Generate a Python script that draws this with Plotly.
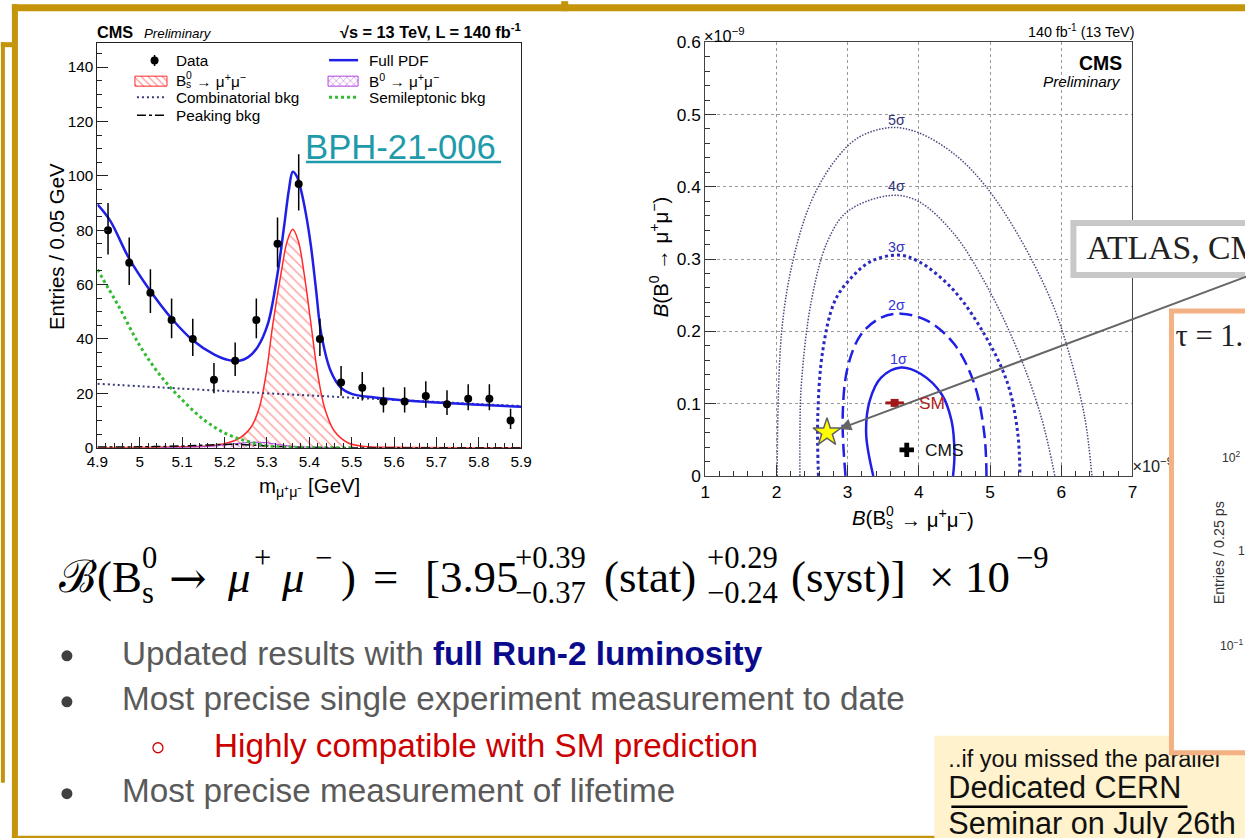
import plotly.graph_objects as go

# Measured page transform of the viewer: picture_px = A + S * figure_px.
# All positions below are written in picture pixels (those of the 1246x839 reference)
# and converted to figure fractions with this transform.
SX, SY = 0.982, 0.977
AX, AY = 10.1, 8.8
W, H = 1256, 848
XMAX, YMAX = AX + SX * W, AY + SY * H          # last drawable picture pixel
FS = 1 / 0.98                                   # font scale compensation
SANS = "Liberation Sans, Arial, sans-serif"
SERIF = "Liberation Serif, DejaVu Serif, serif"

# ---------------- left panel: mass fit ----------------
bin_centers = [4.925, 4.975, 5.025, 5.075, 5.125, 5.175, 5.225, 5.275, 5.325, 5.375,
               5.425, 5.475, 5.525, 5.575, 5.625, 5.675, 5.725, 5.775, 5.825, 5.875]
entries = [80, 68, 57, 47, 40, 25, 32, 47, 75, 97, 40, 24, 22, 17, 17, 19, 16, 18, 18, 10]
err_up = [10.0, 9.3, 8.6, 7.9, 7.4, 6.1, 6.7, 7.9, 9.7, 10.9, 7.4, 6.0, 5.8, 5.2, 5.2, 5.4, 5.1, 5.3, 5.3, 4.3]
err_dn = [8.9, 8.2, 7.5, 6.8, 6.3, 5.0, 5.6, 6.8, 8.6, 9.8, 6.3, 4.9, 4.7, 4.1, 4.1, 4.3, 4.0, 4.2, 4.2, 3.1]

pdf_m = [4.9, 4.93, 4.975, 5.025, 5.075, 5.125, 5.175, 5.21, 5.235, 5.255, 5.278, 5.302, 5.325,
         5.341, 5.352, 5.361, 5.37, 5.38, 5.392, 5.404, 5.416, 5.428, 5.451, 5.475, 5.5, 5.55,
         5.6, 5.7, 5.8, 5.9]
pdf_v = [89.5, 83.5, 69.5, 57.6, 47.5, 39.5, 34.3, 32.2, 32.0, 33.2, 37.0, 45.4, 64.0,
         82.0, 95.0, 101.5, 100.0, 95.0, 86.0, 74.0, 58.0, 42.0, 28.0, 22.0, 19.8, 18.5,
         17.7, 16.6, 15.8, 15.0]

sig_m = [4.9, 5.1, 5.184, 5.231, 5.262, 5.282, 5.298, 5.314, 5.333, 5.348, 5.361, 5.374,
         5.388, 5.404, 5.42, 5.436, 5.459, 5.491, 5.53, 5.6, 5.9]
sig_v = [0.0, 0.3, 1.0, 3.1, 7.4, 14.7, 27.0, 45.4, 63.8, 76.0, 80.3, 76.0,
         63.8, 45.4, 27.0, 14.7, 6.1, 1.8, 0.4, 0.1, 0.0]

b0_m = [5.05, 5.1, 5.15, 5.2, 5.24, 5.27, 5.3, 5.33, 5.36, 5.4, 5.45]
b0_v = [0.0, 0.1, 0.4, 1.0, 1.7, 2.0, 1.8, 1.1, 0.5, 0.15, 0.0]

comb_m = [4.9, 5.1, 5.3, 5.5, 5.7, 5.9]
comb_v = [23.5, 21.7, 20.0, 18.4, 16.8, 15.3]

semi_m = [4.9, 4.95, 5.0, 5.05, 5.1, 5.15, 5.2, 5.25, 5.3, 5.35, 5.4, 5.5]
semi_v = [65.5, 52.0, 37.5, 26.2, 17.6, 10.4, 5.4, 2.5, 0.7, 0.2, 0.0, 0.0]

peak_m = [4.9, 5.0, 5.1, 5.15, 5.2, 5.25, 5.3, 5.35, 5.4, 5.5, 5.9]
peak_v = [0.2, 0.3, 0.6, 0.9, 1.2, 1.1, 0.6, 0.2, 0.05, 0.0, 0.0]

# ---------------- right panel: 2D likelihood contours ----------------
c1_x = [3.36, 3.26, 3.31, 3.47, 3.75, 4.03, 4.32, 4.46, 4.50, 4.48]
c1_y = [0.0, 0.058, 0.104, 0.136, 0.15, 0.141, 0.113, 0.076, 0.030, 0.0]
c2_x = [2.97, 2.93, 3.0, 3.19, 3.47, 3.75, 4.13, 4.50, 4.78, 4.92, 4.95]
c2_y = [0.0, 0.081, 0.15, 0.196, 0.219, 0.2245, 0.214, 0.182, 0.127, 0.058, 0.0]
c3_x = [2.59, 2.58, 2.65, 2.82, 3.05, 3.33, 3.71, 3.99, 4.46, 4.92, 5.25, 5.39, 5.42]
c3_y = [0.0, 0.081, 0.173, 0.242, 0.274, 0.297, 0.3055, 0.297, 0.26, 0.196, 0.127, 0.058, 0.0]
c4_x = [2.33, 2.33, 2.35, 2.49, 2.72, 3.0, 3.61, 3.99, 4.50, 4.97, 5.39, 5.72, 5.91]
c4_y = [0.0, 0.06, 0.127, 0.242, 0.325, 0.366, 0.388, 0.380, 0.334, 0.26, 0.173, 0.081, 0.0]
c5_x = [2.01, 2.07, 2.23, 2.49, 2.82, 3.15, 3.61, 3.99, 4.50, 4.92, 5.39, 5.86, 6.10, 6.33, 6.43]
c5_y = [0.0, 0.196, 0.297, 0.38, 0.436, 0.468, 0.482, 0.475, 0.445, 0.403, 0.334, 0.242, 0.173, 0.081, 0.0]
sigma_labels = ["1σ", "2σ", "3σ", "4σ", "5σ"]
sigma_label_x = [3.72, 3.68, 3.68, 3.68, 3.68]
sigma_label_y = [0.162, 0.237, 0.317, 0.401, 0.493]

sm_x, sm_y, sm_xerr = [3.66], [0.101], [0.13]
cms_x, cms_y = [3.83], [0.036]
atlas_x, atlas_y = [2.71], [0.06]

# ---------------- helpers (picture pixels -> paper fractions) ----------------
def fx(x):
    return (x - AX) / SX / W


def fy(y):
    return 1 - (y - AY) / SY / H


def fs(size):
    return round(size * FS, 1)


annotations = []
shapes = []


def ann(text, x, y, size, color="black", family=SANS, xanchor="left", yanchor="middle", angle=0):
    annotations.append(dict(text=text, x=fx(x), y=fy(y), xref="paper", yref="paper",
                            showarrow=False, xanchor=xanchor, yanchor=yanchor, textangle=angle,
                            borderpad=0, borderwidth=0,
                            font=dict(size=fs(size), color=color, family=family)))


def rect(x0, y0, x1, y1, fill=None, layer="below"):
    x1, y1 = min(x1, XMAX), min(y1, YMAX)
    shapes.append(dict(type="rect", xref="paper", yref="paper", x0=fx(x0), x1=fx(x1),
                       y0=fy(y0), y1=fy(y1), fillcolor=fill,
                       line=dict(color="rgba(0,0,0,0)", width=0), layer=layer))


def seg(x0, y0, x1, y1, color, width, layer="above"):
    shapes.append(dict(type="line", xref="paper", yref="paper", x0=fx(x0), x1=fx(x1),
                       y0=fy(y0), y1=fy(y1), line=dict(color=color, width=width), layer=layer))


def circle(cx, cy, r, fill=None, line=None, lw=0):
    shapes.append(dict(type="circle", xref="paper", yref="paper", x0=fx(cx - r), x1=fx(cx + r),
                       y0=fy(cy + r), y1=fy(cy - r), fillcolor=fill if fill else "rgba(0,0,0,0)",
                       line=dict(color=line if line else "rgba(0,0,0,0)", width=lw), layer="above"))


def bs_label(x, y, size, prefix="B", suffix=" → μ<sup>+</sup>μ<sup>−</sup>", prefix_w=None):
    """B with a stacked 0 / s, as in the ROOT labels"""
    pw = prefix_w if prefix_w is not None else 0.67 * size
    ann(prefix, x, y, size)
    ann("0", x + pw, y - 0.32 * size, 0.68 * size)
    ann("s", x + pw, y + 0.3 * size, 0.68 * size)
    ann(suffix, x + pw + 0.42 * size, y, size)


fig = go.Figure()

BLUE = "#1f1fe6"
RED = "#ff2a2a"
GREEN = "#33bb33"
NAVY = "#3a3a78"
PURPLE = "#b040e0"

# ---- left panel traces ----
fig.add_trace(go.Scatter(x=sig_m, y=sig_v, mode="lines", line=dict(color=RED, width=1.5, shape="spline"),
                         fill="tozeroy", fillcolor="rgba(0,0,0,0)",
                         fillpattern=dict(shape="\\", fgcolor=RED, size=7, solidity=0.18),
                         xaxis="x", yaxis="y", showlegend=False))
fig.add_trace(go.Scatter(x=b0_m, y=b0_v, mode="lines", line=dict(color=PURPLE, width=1, shape="spline"),
                         fill="tozeroy", fillcolor="rgba(0,0,0,0)",
                         fillpattern=dict(shape="x", fgcolor=PURPLE, size=5, solidity=0.3),
                         xaxis="x", yaxis="y", showlegend=False))
fig.add_trace(go.Scatter(x=peak_m, y=peak_v, mode="lines", line=dict(color="black", width=1.5, dash="dashdot", shape="spline"),
                         xaxis="x", yaxis="y", showlegend=False))
fig.add_trace(go.Scatter(x=semi_m, y=semi_v, mode="lines", line=dict(color=GREEN, width=3, dash="dot", shape="spline"),
                         xaxis="x", yaxis="y", showlegend=False))
fig.add_trace(go.Scatter(x=comb_m, y=comb_v, mode="lines", line=dict(color=NAVY, width=2, dash="2px,3px", shape="spline"),
                         xaxis="x", yaxis="y", showlegend=False))
fig.add_trace(go.Scatter(x=pdf_m, y=pdf_v, mode="lines", line=dict(color=BLUE, width=2.5, shape="spline"),
                         xaxis="x", yaxis="y", showlegend=False))
fig.add_trace(go.Scatter(x=bin_centers, y=entries, mode="markers",
                         marker=dict(color="black", size=8),
                         error_y=dict(type="data", symmetric=False, array=err_up, arrayminus=err_dn,
                                      color="black", thickness=1.5, width=0),
                         xaxis="x", yaxis="y", showlegend=False))

# ---- right panel traces ----
contour_styles = [
    (c1_x, c1_y, dict(color=BLUE, width=2.5)),
    (c2_x, c2_y, dict(color=BLUE, width=2.5, dash="13px,6px")),
    (c3_x, c3_y, dict(color="#2a2ac0", width=3, dash="3px,3px")),
    (c4_x, c4_y, dict(color="#4a4a80", width=1.5, dash="1.5px,1.5px")),
    (c5_x, c5_y, dict(color="#4a4a80", width=1.5, dash="1.5px,1.5px")),
]
for cx, cy, st in contour_styles:
    st = dict(st, shape="spline")
    fig.add_trace(go.Scatter(x=cx, y=cy, mode="lines", line=st, xaxis="x2", yaxis="y2", showlegend=False))

fig.add_trace(go.Scatter(x=sm_x, y=sm_y, mode="markers", marker=dict(symbol="square", size=8, color="#a01818"),
                         error_x=dict(type="data", array=sm_xerr, color="#a01818", thickness=3, width=0),
                         xaxis="x2", yaxis="y2", showlegend=False))
fig.add_trace(go.Scatter(x=cms_x, y=cms_y, mode="markers", marker=dict(symbol="cross", size=12, color="black"),
                         xaxis="x2", yaxis="y2", showlegend=False))
fig.add_trace(go.Scatter(x=atlas_x, y=atlas_y, mode="markers",
                         marker=dict(symbol="star", size=21, color="#ffff00", line=dict(color="#606060", width=1.5)),
                         xaxis="x2", yaxis="y2", showlegend=False, cliponaxis=False))

# ---- overlay (picture-pixel) axis: legend swatches, side boxes, edge-clipped texts ----
ov = dict(xaxis="x3", yaxis="y3", showlegend=False, hoverinfo="skip")
fig.add_trace(go.Scatter(x=[153.6], y=[59.3], mode="markers", marker=dict(color="black", size=8),
                         error_y=dict(type="data", array=[5.5], color="black", thickness=1.5, width=0), **ov))
fig.add_trace(go.Scatter(x=[134, 166, 166, 134, 134], y=[75, 75, 85, 85, 75], mode="lines",
                         line=dict(color=RED, width=1), fill="toself", fillcolor="rgba(0,0,0,0)",
                         fillpattern=dict(shape="\\", fgcolor=RED, size=5, solidity=0.25), **ov))
fig.add_trace(go.Scatter(x=[136, 166], y=[96, 96], mode="lines", line=dict(color=NAVY, width=2, dash="2px,3px"), **ov))
fig.add_trace(go.Scatter(x=[136, 166], y=[114, 114], mode="lines", line=dict(color="black", width=1.5, dash="dashdot"), **ov))
fig.add_trace(go.Scatter(x=[328, 357], y=[59, 59], mode="lines", line=dict(color=BLUE, width=2.5), **ov))
fig.add_trace(go.Scatter(x=[327, 357, 357, 327, 327], y=[75, 75, 85, 85, 75], mode="lines",
                         line=dict(color=PURPLE, width=1), fill="toself", fillcolor="rgba(0,0,0,0)",
                         fillpattern=dict(shape="x", fgcolor=PURPLE, size=5, solidity=0.3), **ov))
fig.add_trace(go.Scatter(x=[328, 357], y=[96, 96], mode="lines", line=dict(color=GREEN, width=3, dash="dot"), **ov))

# texts lying under the lifetime panel
fig.add_trace(go.Scatter(x=[947, 947, 947, 1131], y=[760, 790, 826, 467], mode="text",
                         text=["..if you missed the parallel", "Dedicated CERN", "Seminar on July 26th",
                               "×10<sup>−9</sup>"],
                         textposition="middle right",
                         textfont=dict(size=[fs(23), fs(30), fs(30), fs(16)],
                                       color=["#111111", "#111111", "#111111", "#222222"], family=SANS), **ov))


def side_box(x0, y0, y1, color, lw):
    fig.add_trace(go.Scatter(x=[x0, XMAX + 5, XMAX + 5, x0, x0], y=[y0, y0, y1, y1, y0], mode="lines",
                             fill="toself", fillcolor="white", line=dict(width=0, color="white"), **ov))
    fig.add_trace(go.Scatter(x=[XMAX + 5, x0, x0, XMAX + 5], y=[y0, y0, y1, y1], mode="lines",
                             line=dict(color=color, width=lw), **ov))


side_box(1170, 310, 752, "#f4b183", 5)
side_box(1072, 222, 274, "#c8c8c8", 6)
fig.add_trace(go.Scatter(x=[1085, 1174], y=[250, 337], mode="text",
                         text=["ATLAS, CMS and LHCb", "τ = 1.5"], textposition="middle right",
                         textfont=dict(size=[fs(33), fs(30)], color="#222222", family=SERIF), **ov))

# ---------------- decorations ----------------
GOLD = "#c4950a"
rect(11, 3, XMAX, 10, fill=GOLD)
rect(560, 0, 567, 10, fill=GOLD)
rect(11, 3, 17, YMAX, fill=GOLD)
rect(0, 41, 16, 46, fill=GOLD)
rect(0, 41, 4, 782, fill=GOLD)
rect(11, 835, XMAX, YMAX, fill=GOLD)
rect(933, 735, XMAX, YMAX, fill="#fff2cc")
seg(305, 161, 500, 161, "#1e9aaa", 2.5)
seg(950, 806, 1186, 806, "black", 2.5, layer="below")

# bullets
circle(66, 655, 5.5, fill="#404040")
circle(66, 701, 5.5, fill="#404040")
circle(157, 747, 5, line="#cc0000", lw=1.3)
circle(66, 793, 5.5, fill="#404040")

# arrow to the star (combination point)
annotations.append(dict(x=fx(838), y=fy(428), xref="paper", yref="paper",
                        ax=(XMAX - 838) / SX, ay=(277 - 428) / SY,
                        axref="pixel", ayref="pixel", showarrow=True, arrowhead=2, arrowsize=1.2,
                        arrowwidth=2, arrowcolor="#666666", text=""))

# ---------------- texts ----------------
# left panel headers & legend
ann("<b>CMS</b>", 96, 31, 16)
ann("<i>Preliminary</i>", 143, 32, 13)
ann("<b>√s = 13 TeV, L = 140 fb<sup>-1</sup></b>", 520, 30, 16, xanchor="right")
ann("Data", 175, 59, 15)
bs_label(175, 79, 15)
ann("Combinatorial bkg", 175, 96, 15)
ann("Peaking bkg", 175, 114, 15)
ann("Full PDF", 368, 59, 15)
ann("B<sup>0</sup> → μ<sup>+</sup>μ<sup>−</sup>", 368, 79, 15)
ann("Semileptonic bkg", 368, 96, 15)
ann("BPH-21-006", 304, 146, 34, color="#1e9aaa")
ann("Entries / 0.05 GeV", 56, 245, 20, xanchor="center", angle=-90)
ann("m<sub>μ⁺μ⁻</sub> [GeV]", 308, 487, 20, xanchor="center")

# right panel headers
ann("140 fb<sup>-1</sup> (13 TeV)", 1133, 30, 14, xanchor="right")
ann("<b>CMS</b>", 1121, 62, 19, xanchor="right")
ann("<i>Preliminary</i>", 1120, 80, 15, xanchor="right")
ann("×10<sup>−9</sup>", 703, 34, 16)
ann("<i>B</i>(B<sup>0</sup> → μ<sup>+</sup>μ<sup>−</sup>)", 658, 256, 20, xanchor="center", angle=-90)
bs_label(851, 517, 20, prefix="<i>B</i>(B", suffix=" → μ<sup>+</sup>μ<sup>−</sup>)", prefix_w=34)
for lab, lx, ly, col in zip(sigma_labels, sigma_label_x, sigma_label_y,
                            ["#3333dd", "#3333dd", "#3333bb", "#333377", "#333377"]):
    annotations.append(dict(text=lab, x=lx, y=ly, xref="x2", yref="y2", showarrow=False,
                            font=dict(size=fs(14), color=col, family=SANS)))
annotations.append(dict(text="SM", x=sm_x[0] + 0.32, y=sm_y[0], xref="x2", yref="y2", showarrow=False,
                        xanchor="left", font=dict(size=fs(17), color="#b02020", family=SANS)))
annotations.append(dict(text="CMS", x=cms_x[0] + 0.23, y=cms_y[0], xref="x2", yref="y2", showarrow=False,
                        xanchor="left", font=dict(size=fs(17), color="#111111", family=SANS)))

# small fragments inside the lifetime panel
ann("10<sup>2</sup>", 1221, 456, 12, color="#333333")
ann("1", 1236, 550, 12, color="#333333")
ann("10<sup>−1</sup>", 1219, 644, 12, color="#333333")
ann("Entries / 0.25 ps", 1217, 552, 14, color="#333333", xanchor="center", angle=-90)

# equation
EQ = 44
SC = 30
ann("ℬ(B", 58, 576, EQ, family=SERIF)
ann("0", 141, 557, SC, family=SERIF)
ann("s", 141, 592, SC, family=SERIF)
ann("→", 168, 578, EQ, family="DejaVu Serif")
ann("<i>μ</i>", 226, 576, EQ, family=SERIF)
ann("+", 253, 557, SC, family=SERIF)
ann("<i>μ</i>", 280, 576, EQ, family=SERIF)
ann("−", 314, 557, SC, family=SERIF)
ann(")", 340, 576, EQ, family=SERIF)
ann("=", 372, 576, EQ, family=SERIF)
ann("[3.95", 424, 576, EQ, family=SERIF)
ann("+0.39", 514, 557, SC, family=SERIF)
ann("−0.37", 514, 592, SC, family=SERIF)
ann("(stat)", 603, 576, EQ, family=SERIF)
ann("+0.29", 706, 557, SC, family=SERIF)
ann("−0.24", 706, 592, SC, family=SERIF)
ann("(syst)]", 790, 576, EQ, family=SERIF)
ann("×", 928, 576, EQ, family=SERIF)
ann("10", 964, 576, EQ, family=SERIF)
ann("−9", 1015, 557, SC, family=SERIF)

# bullet texts
GRAY = "#5a5a5a"
BUL = 32.6
ann("Updated results with <b><span style='color:#0a0a8c'>full Run-2 luminosity</span></b>", 121, 653, BUL, color=GRAY)
ann("Most precise single experiment measurement to date", 121, 698, BUL, color=GRAY)
ann("Highly compatible with SM prediction", 213, 745, BUL, color="#cc0000")
ann("Most precise measurement of lifetime", 121, 790, BUL, color=GRAY)

# ---------------- axes ----------------
tickfont = dict(size=fs(15), color="black", family=SANS)
fig.update_layout(
    width=W, height=H, autosize=False,
    margin=dict(l=0, r=0, t=0, b=0, pad=0),
    paper_bgcolor="white", plot_bgcolor="rgba(0,0,0,0)",
    showlegend=False,
    xaxis=dict(domain=[fx(96.5), fx(520)], range=[4.9, 5.9], anchor="y",
               showline=True, mirror=True, linecolor="#222222", linewidth=1,
               showgrid=False, zeroline=False, ticks="inside", ticklen=11, tickcolor="#222222",
               dtick=0.1, tick0=4.9, tickfont=tickfont,
               minor=dict(dtick=0.02, tick0=4.9, ticks="inside", ticklen=5, tickcolor="#222222")),
    yaxis=dict(domain=[fy(446.7), fy(42)], range=[0, 148.8], anchor="x",
               showline=True, mirror=True, linecolor="#222222", linewidth=1,
               showgrid=False, zeroline=False, ticks="inside", ticklen=11, tickcolor="#222222",
               dtick=20, tick0=0, tickfont=tickfont,
               minor=dict(dtick=5, ticks="inside", ticklen=5, tickcolor="#222222")),
    xaxis2=dict(domain=[fx(704), fx(1131)], range=[1, 7], anchor="y2",
                showline=True, mirror=True, linecolor="#444444", linewidth=1,
                showgrid=True, gridcolor="#9a9a9a", griddash="dot", gridwidth=1, zeroline=False,
                ticks="inside", ticklen=11, tickcolor="#333333", dtick=1,
                tickfont=dict(size=fs(17), color="black", family=SANS),
                minor=dict(dtick=0.2, ticks="inside", ticklen=5, tickcolor="#333333", showgrid=False)),
    yaxis2=dict(domain=[fy(475), fy(41)], range=[0, 0.6], anchor="x2",
                showline=True, mirror=True, linecolor="#444444", linewidth=1,
                showgrid=True, gridcolor="#9a9a9a", griddash="dot", gridwidth=1, zeroline=False,
                ticks="inside", ticklen=11, tickcolor="#333333", dtick=0.1,
                tickfont=dict(size=fs(17), color="black", family=SANS),
                minor=dict(dtick=0.02, ticks="inside", ticklen=5, tickcolor="#333333", showgrid=False)),
    xaxis3=dict(domain=[0, 1], range=[AX, AX + SX * W], anchor="y3", visible=False, fixedrange=True),
    yaxis3=dict(domain=[0, 1], range=[AY + SY * H, AY], anchor="x3", visible=False, fixedrange=True),
    annotations=annotations,
    shapes=shapes,
)

fig.write_html("out.html")
